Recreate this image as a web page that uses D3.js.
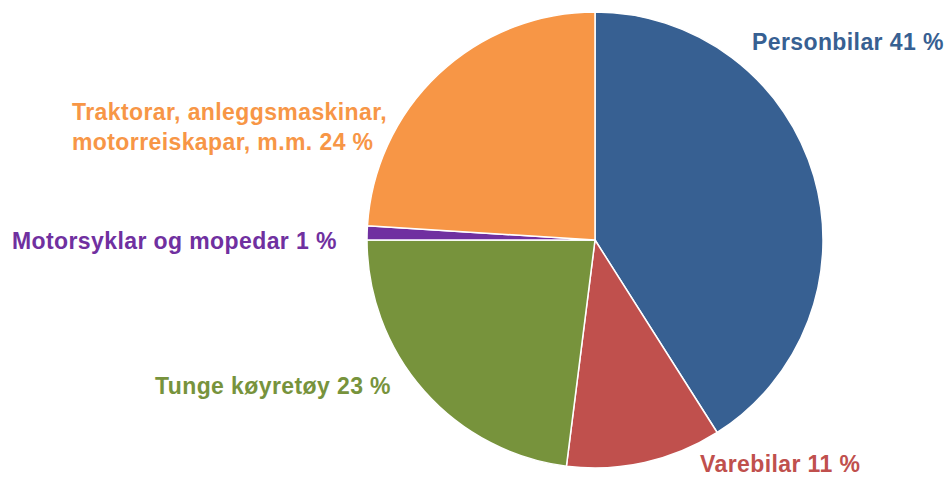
<!DOCTYPE html>
<html>
<head>
<meta charset="utf-8">
<script src="https://cdn.jsdelivr.net/npm/d3@7"></script>
<style>
  html, body { margin: 0; padding: 0; background: #fff; }
  svg { display: block; font-family: "Liberation Sans", Arial, sans-serif; font-weight: bold; }
</style>
</head>
<body>
<div id="chart"></div>
<script>
const categories = ['Personbilar', 'Varebilar', 'Tunge køyretøy', 'Motorsyklar og mopedar', 'Traktorar, anleggsmaskinar, motorreiskapar, m.m.'];
const values = [41, 11, 23, 1, 24];
const colors = ['#376092', '#c0504d', '#77933c', '#7030a0', '#f79646'];
const labelLines = [
  ['Personbilar 41 %'],
  ['Varebilar 11 %'],
  ['Tunge køyretøy 23 %'],
  ['Motorsyklar og mopedar 1 %'],
  ['Traktorar, anleggsmaskinar,', 'motorreiskapar, m.m. 24 %']
];
// label anchor (left x, first baseline y)
const labelPos = [[752, 50], [700, 472], [155, 394], [12, 249], [72, 120]];

const width = 946, height = 478;
const cx = 595, cy = 240, r = 228;

const svg = d3.select('#chart').append('svg')
  .attr('width', width).attr('height', height);

const pie = d3.pie().sort(null).value((d) => d);
const arc = d3.arc().innerRadius(0).outerRadius(r);

const g = svg.append('g').attr('transform', `translate(${cx},${cy})`);
g.selectAll('path').data(pie(values)).join('path')
  .attr('d', arc)
  .attr('fill', (d, i) => colors[i])
  .attr('stroke', '#fff')
  .attr('stroke-width', 1.5)
  .attr('stroke-linejoin', 'round');

const labels = svg.append('g').selectAll('text').data(labelLines).join('text')
  .attr('x', (d, i) => labelPos[i][0])
  .attr('y', (d, i) => labelPos[i][1])
  .attr('fill', (d, i) => colors[i])
  .attr('font-size', 23)
  .attr('letter-spacing', 0.4);
labels.selectAll('tspan').data((d, i) => d.map((t) => ({ t, x: labelPos[i][0] }))).join('tspan')
  .attr('x', (d) => d.x)
  .attr('dy', (d, j) => (j === 0 ? 0 : 30))
  .text((d) => d.t);
</script>
</body>
</html>
